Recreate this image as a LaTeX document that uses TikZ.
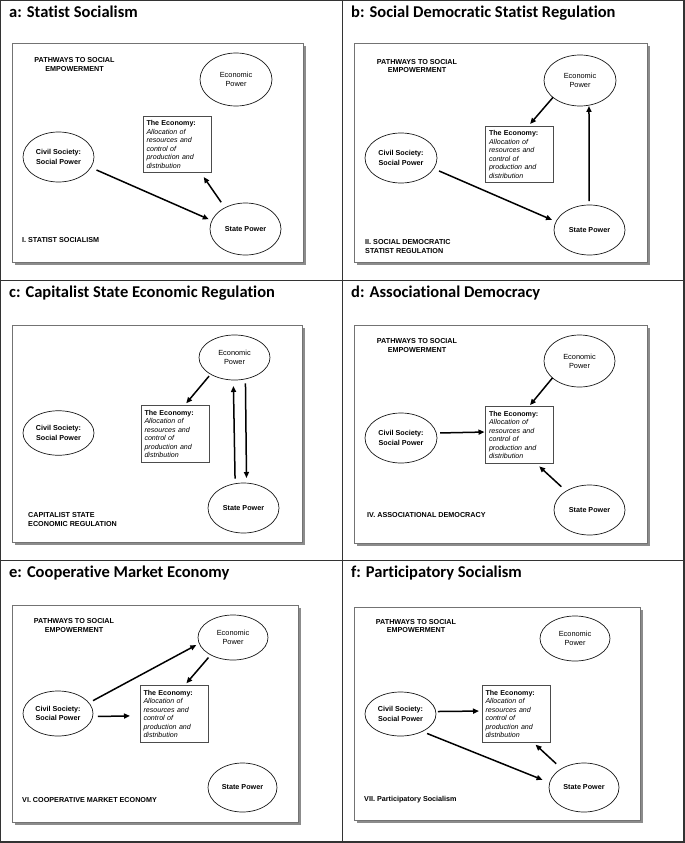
\documentclass[tikz,border=0pt]{standalone}
\usepackage{fontspec}
\setmainfont{Liberation Sans}
\newfontfamily\ttlfont[Ligatures=NoCommon]{Carlito}
\usetikzlibrary{shapes.geometric,arrows.meta}
\newcommand\ecotext{\textbf{The Economy:}\\ \textit{Allocation of}\\ \textit{resources and}\\ \textit{control of}\\ \textit{production and}\\ \textit{distribution}}
\tikzset{
  gridline/.style={line width=1.1pt, draw=black!80},
  ttl/.style={anchor=base west, inner sep=0pt, font=\ttlfont\bfseries\fontsize{16.5}{19}\selectfont},
  shadowbox/.style={fill=black!45, draw=none},
  panelbox/.style={fill=white, draw=black!55, line width=0.7pt},
  ov/.style={ellipse, draw=black!90, line width=0.7pt, inner sep=0pt, outer sep=0pt, align=center, font=\fontsize{7.4}{9.2}\selectfont},
  ovb/.style={ov, font=\bfseries\fontsize{7.2}{9.4}\selectfont},
  ecobox/.style={rectangle, draw=black!70, line width=0.6pt, fill=white, inner xsep=3.5pt, inner ysep=0pt, outer sep=0pt, text width=61pt, align=left, minimum height=56.5pt, font=\fontsize{7.1}{8.5}\selectfont},
  pw/.style={align=center, inner sep=0pt, font=\bfseries\fontsize{7.2}{8.6}\selectfont},
  lbl/.style={anchor=west, align=left, inner sep=0pt, font=\bfseries\fontsize{7.2}{8.6}\selectfont},
  arr/.style={-{Triangle[length=6pt,width=5pt]}, line width=1.5pt},
}
\begin{document}
\begin{tikzpicture}[x=1pt,y=-1pt]
\useasboundingbox (0,0) rectangle (685,843);
% grid
\draw[gridline] (0.6,0.6) rectangle (684,842);
\draw[gridline] (342.5,0.6) -- (342.5,842);
\draw[gridline] (0.6,280.5) -- (684,280.5);
\draw[gridline] (0.6,560.5) -- (684,560.5);

% ---------- panel a ----------
\begin{scope}[shift={(0,0)}]
\node[ttl] (tA) at (9,17.3) {a: Statist Socialism};
\fill[shadowbox] (15,46) rectangle (306,265);
\draw[panelbox] (12,43) rectangle (303,262);
\node[pw] (pwA) at (74.5,64.5) {PATHWAYS TO SOCIAL\\EMPOWERMENT};
\node[ov, minimum width=72pt, minimum height=53pt] (ecA) at (236,79.5) {Economic\\Power};
\node[ecobox] (eA) at (177,144.5) {\ecotext};
\node[ovb, minimum width=71pt, minimum height=50pt] (cA) at (58.5,157) {Civil Society:\\Social Power};
\node[ovb, minimum width=71pt, minimum height=52pt] (sA) at (245.5,229) {State Power};
\node[lbl] (lA) at (22,240.5) {I. STATIST SOCIALISM};
\draw[arr, shorten <=6.3pt, shorten >=3.4pt] (cA.-18.7) -- (sA.166.5);
\draw[arr, shorten <=6.7pt, shorten >=5.2pt] (sA.134.4) -- (eA.-50.3);
\end{scope}

% ---------- panel b ----------
\begin{scope}[shift={(342,0)}]
\node[ttl] (tB) at (9,17.3) {b: Social Democratic Statist Regulation};
\fill[shadowbox] (15,46) rectangle (308,265);
\draw[panelbox] (12,43) rectangle (305,262);
\node[pw] (pwB) at (75,66) {PATHWAYS TO SOCIAL\\EMPOWERMENT};
\node[ov, minimum width=72pt, minimum height=51pt] (ecB) at (238,80.5) {Economic\\Power};
\node[ecobox] (eB) at (177.5,154.5) {\ecotext};
\node[ovb, minimum width=72pt, minimum height=50pt] (cB) at (59,158) {Civil Society:\\Social Power};
\node[ovb, minimum width=71pt, minimum height=50pt] (sB) at (247.5,230) {State Power};
\node[lbl] (lB) at (23,246.5) {II. SOCIAL DEMOCRATIC\\STATIST REGULATION};
\draw[arr, shorten <=5.9pt, shorten >=4.4pt] (cB.-18.9) -- (sB.166.8);
\draw[arr, shorten <=0pt, shorten >=3pt] (ecB.212.4) -- (eB.73.2);
\draw[arr, shorten <=4pt, shorten >=0.8pt] (sB.91) -- (ecB.-70.6);
\end{scope}

% ---------- panel c ----------
\begin{scope}[shift={(0,280)}]
\node[ttl] (tC) at (9,17.3) {c: Capitalist State Economic Regulation};
\fill[shadowbox] (15,48) rectangle (305,265);
\draw[panelbox] (12,45) rectangle (302,262);
\node[ov, minimum width=71pt, minimum height=45pt] (ecC) at (234.5,77.5) {Economic\\Power};
\node[ecobox] (eC) at (175,154) {\ecotext};
\node[ovb, minimum width=71pt, minimum height=44.5pt] (cC) at (58.5,153) {Civil Society:\\Social Power};
\node[ovb, minimum width=71pt, minimum height=50pt] (sC) at (243.5,228) {State Power};
\node[lbl] (lC) at (28,239.5) {CAPITALIST STATE\\ECONOMIC REGULATION};
\draw[arr, shorten <=2.6pt, shorten >=3.2pt] (ecC.215.96) -- (eC.72.1);
\draw[arr, shorten <=5.1pt, shorten >=6pt] (sC.109.9) -- (ecC.-93);
\draw[arr, shorten <=4.5pt, shorten >=5.1pt] (ecC.-63.9) -- (sC.83.3);
\end{scope}

% ---------- panel d ----------
\begin{scope}[shift={(342,280)}]
\node[ttl] (tD) at (9,17.3) {d: Associational Democracy};
\fill[shadowbox] (15,48) rectangle (308,266);
\draw[panelbox] (12,45) rectangle (305,263);
\node[pw] (pwD) at (75,65.5) {PATHWAYS TO SOCIAL\\EMPOWERMENT};
\node[ov, minimum width=71pt, minimum height=52pt] (ecD) at (237.5,81) {Economic\\Power};
\node[ecobox] (eD) at (177.5,155) {\ecotext};
\node[ovb, minimum width=72pt, minimum height=50pt] (cD) at (59,158) {Civil Society:\\Social Power};
\node[ovb, minimum width=71pt, minimum height=50pt] (sD) at (247.5,230) {State Power};
\node[lbl] (lD) at (25,235) {IV. ASSOCIATIONAL DEMOCRACY};
\draw[arr, shorten <=0pt, shorten >=2.1pt] (ecD.212.1) -- (eD.72.4);
\draw[arr, shorten <=3.9pt, shorten >=1pt] (cD.8.7) -- (eD.175.2);
\draw[arr, shorten <=6.6pt, shorten >=4.6pt] (sD.141.1) -- (eD.-60);
\end{scope}

% ---------- panel e ----------
\begin{scope}[shift={(0,560)}]
\node[ttl] (tE) at (9,17.3) {e: Cooperative Market Economy};
\fill[shadowbox] (15,48) rectangle (301,265);
\draw[panelbox] (12,45) rectangle (298,262);
\node[pw] (pwE) at (74,65.5) {PATHWAYS TO SOCIAL\\EMPOWERMENT};
\node[ov, minimum width=70pt, minimum height=45pt] (ecE) at (233,77.5) {Economic\\Power};
\node[ecobox] (eE) at (174,154) {\ecotext};
\node[ovb, minimum width=70pt, minimum height=45pt] (cE) at (58,153.5) {Civil Society:\\Social Power};
\node[ovb, minimum width=69pt, minimum height=49pt] (sE) at (242.5,227.5) {State Power};
\node[lbl] (lE) at (22,240) {VI. COOPERATIVE MARKET ECONOMY};
\draw[arr, shorten <=4.7pt, shorten >=3.3pt] (cE.19.65) -- (ecE.190);
\draw[arr, shorten <=3.5pt, shorten >=3.2pt] (ecE.218) -- (eE.70.5);
\draw[arr, shorten <=5.2pt, shorten >=10pt] (cE.-5) -- (eE.183.9);
\end{scope}

% ---------- panel f ----------
\begin{scope}[shift={(342,560)}]
\node[ttl] (tF) at (9,17.3) {f: Participatory Socialism};
\fill[shadowbox] (15,50) rectangle (301,263);
\draw[panelbox] (12,47) rectangle (298,260);
\node[pw] (pwF) at (74,66) {PATHWAYS TO SOCIAL\\EMPOWERMENT};
\node[ov, minimum width=70pt, minimum height=45pt] (ecF) at (233,78.5) {Economic\\Power};
\node[ecobox] (eF) at (174,154) {\ecotext};
\node[ovb, minimum width=71pt, minimum height=44pt] (cF) at (58.5,154) {Civil Society:\\Social Power};
\node[ovb, minimum width=70pt, minimum height=49pt] (sF) at (242,227.5) {State Power};
\node[lbl] (lF) at (22,240) {VII. Participatory Socialism};
\draw[arr, shorten <=2.2pt, shorten >=3pt] (cF.4.6) -- (eF.175.4);
\draw[arr, shorten <=5.4pt, shorten >=7.7pt] (cF.-39.5) -- (sF.172.5);
\draw[arr, shorten <=7.3pt, shorten >=3.5pt] (sF.140) -- (eF.-59.9);
\end{scope}
\end{tikzpicture}
\end{document}
